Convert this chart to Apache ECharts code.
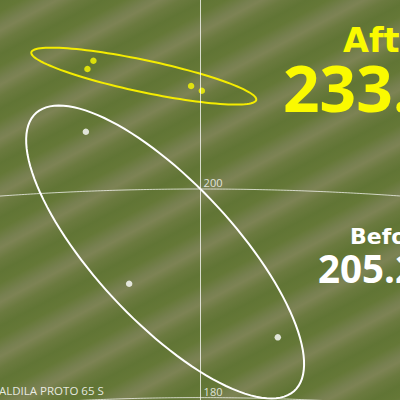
<!DOCTYPE html>
<html>
<head>
<meta charset="utf-8">
<script src="https://cdn.jsdelivr.net/npm/echarts@6/dist/echarts.min.js"></script>
<style>
  html, body { margin: 0; padding: 0; }
  #dispersion {
    width: 400px; height: 400px; overflow: hidden;
    background: repeating-linear-gradient(152deg,
      #617535 0px, #657837 10px, #778050 22px, #7d8354 27px, #6b7a3f 37px, #617535 48px);
  }
</style>
</head>
<body>
<div id="dispersion"></div>
<script>
var myChart = echarts.init(document.getElementById('dispersion'), null, { renderer: 'svg' });

// 落点：横向偏移(码), 飞行距离(码)
var afterShots = [[-8.79, 212.30], [-9.28, 211.51], [-0.78, 209.88], [0.10, 209.42]];
var beforeShots = [[-9.41, 205.49], [-5.86, 190.92], [6.33, 185.78]];

// 散布椭圆：中心x, 中心y, 长半轴, 短半轴, 角度(度)
var afterEllipse = [[-4.66, 210.82, 9.50, 1.52, -14.0]];
var beforeEllipse = [[-2.91, 193.96, 17.04, 6.06, -52.7]];

// 距离圈
var distanceRings = [180, 200];

var shaftName = 'ALDILA PROTO 65 S';
var afterLabel = 'After', afterAvg = '233.6';
var beforeLabel = 'Before', beforeAvg = '205.2';

var xMin = -16.45, xMax = 16.35;

function ellipseItem(color, width) {
  return function (params, api) {
    var cx = api.value(0), cy = api.value(1), a = api.value(2), b = api.value(3);
    var phi = api.value(4) * Math.PI / 180;
    var pts = [];
    for (var i = 0; i < 120; i++) {
      var t = i / 120 * Math.PI * 2;
      pts.push(api.coord([
        cx + a * Math.cos(phi) * Math.cos(t) - b * Math.sin(phi) * Math.sin(t),
        cy + a * Math.sin(phi) * Math.cos(t) + b * Math.cos(phi) * Math.sin(t)
      ]));
    }
    return {
      type: 'polygon',
      shape: { points: pts },
      style: { fill: 'none', stroke: color, lineWidth: width }
    };
  };
}

function ringItem(params, api) {
  var r = api.value(0);
  var pts = [];
  for (var x = xMin - 1; x <= xMax + 1; x += 0.25) {
    pts.push(api.coord([x, Math.sqrt(r * r - x * x)]));
  }
  var top = api.coord([0, r]);
  return {
    type: 'group',
    children: [
      {
        type: 'polyline',
        shape: { points: pts },
        style: { fill: 'none', stroke: 'rgba(255,255,255,0.7)', lineWidth: 1 }
      },
      {
        type: 'text',
        x: top[0] + 3,
        y: top[1] - 1,
        style: {
          text: String(r),
          fill: 'rgba(255,255,255,0.8)',
          font: '11px "Open Sans"',
          textAlign: 'left',
          textVerticalAlign: 'bottom'
        }
      }
    ]
  };
}

var option = {
  backgroundColor: 'transparent',
  animation: false,
  grid: { left: 0, right: 0, top: 0, bottom: 0 },
  xAxis: { type: 'value', min: xMin, max: xMax, show: false },
  yAxis: { type: 'value', min: 179.77, max: 218.12, show: false },
  graphic: [
    { type: 'text', left: 343, top: 23, style: { text: afterLabel, fill: '#fafa00', font: 'bold 33.5px "DejaVu Sans"' } },
    { type: 'text', left: 283, top: 55, style: { text: afterAvg, fill: '#fafa00', font: 'bold 64px "Open Sans"' } },
    { type: 'text', left: 350, top: 225, style: { text: beforeLabel, fill: '#ffffff', font: 'bold 22px "DejaVu Sans"' } },
    { type: 'text', left: 318, top: 248, style: { text: beforeAvg, fill: '#ffffff', font: 'bold 38.5px "Open Sans"' } },
    { type: 'text', left: -1, top: 384, style: { text: shaftName, fill: 'rgba(255,255,255,0.85)', font: '11.5px "Open Sans"' } }
  ],
  series: [
    {
      type: 'custom',
      renderItem: ringItem,
      data: distanceRings.map(function (r) { return [r]; }),
      silent: true,
      z: 1
    },
    {
      type: 'custom',
      renderItem: ellipseItem('#f4ec00', 2),
      data: afterEllipse,
      silent: true,
      z: 2
    },
    {
      type: 'custom',
      renderItem: ellipseItem('#ffffff', 2),
      data: beforeEllipse,
      silent: true,
      z: 2
    },
    {
      name: 'Before',
      type: 'scatter',
      data: beforeShots,
      symbolSize: 6.5,
      itemStyle: { color: '#ffffff' },
      z: 3,
      markLine: {
        silent: true,
        symbol: 'none',
        label: { show: false },
        lineStyle: { color: 'rgba(255,255,255,0.75)', width: 1, type: 'solid' },
        data: [{ xAxis: 0 }]
      }
    },
    {
      name: 'After',
      type: 'scatter',
      data: afterShots,
      symbolSize: 6.5,
      itemStyle: { color: '#fafa00' },
      z: 3
    }
  ]
};

myChart.setOption(option);
</script>
</body>
</html>
